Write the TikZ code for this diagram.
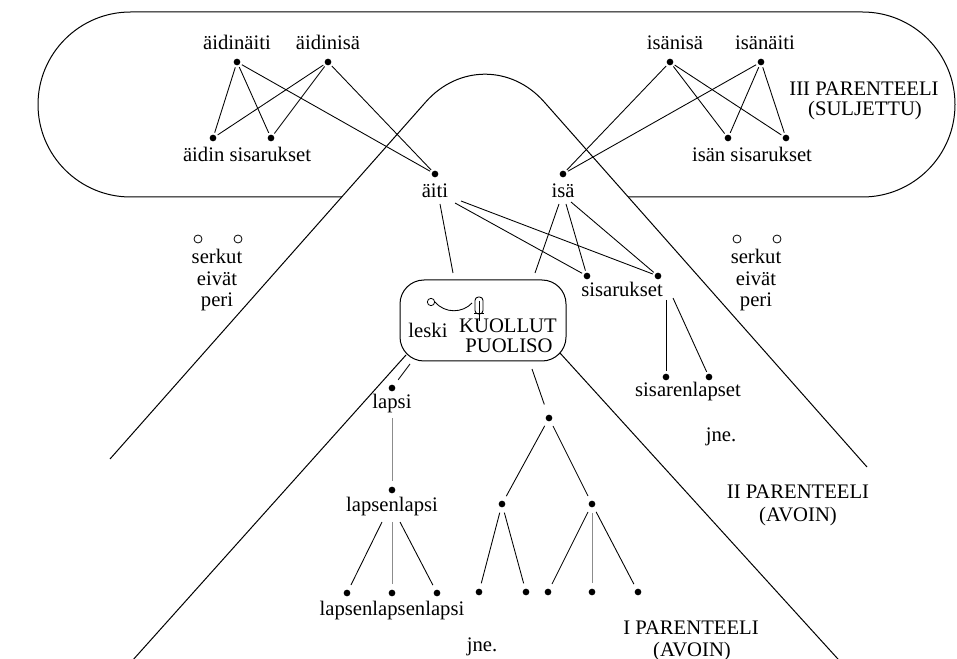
\documentclass[tikz,border=0pt]{standalone}
\usepackage{fontspec}
\setmainfont{Liberation Serif}
\begin{document}
\begin{tikzpicture}[x=0.75pt,y=-0.75pt,
  lbl/.style={inner sep=0pt, anchor=base, font=\fontsize{15.5}{18}\selectfont},
  dot/.style={circle, fill=black, inner sep=0pt, minimum size=5pt},
  odot/.style={circle, draw, inner sep=0pt, minimum size=6pt, line width=0.6pt},
  link/.style={line width=0.65pt, shorten <=1.5pt, shorten >=1.5pt},
  link0/.style={line width=0.65pt},
  glink/.style={line width=0.65pt, draw=black!45},
  bound/.style={line width=0.75pt},
]
\useasboundingbox (0,0) rectangle (957,659);

% ---------- region boundaries ----------
\draw[bound, rounded corners=69.4pt] (342,197) -- (38,197) -- (38,12) -- (955,12) -- (955,197) -- (628,197);
\draw[bound, rounded corners=67pt] (110,459) -- (485,35) -- (867,467);
\node[draw, bound, rounded corners=18pt, minimum width=124.5pt, minimum height=60.75pt, inner sep=0pt] (box) at (483,320.5) {};
\draw[bound] (406,355) -- (115,680);
\draw[bound] (560,353) -- (857,680);

% ---------- top: III parenteeli ----------
\node[dot] (adn) at (237,62) {};
\node[dot] (adi) at (328,62) {};
\node[dot] (as1) at (213,138) {};
\node[dot] (as2) at (271,138) {};
\node[dot] (aiti) at (435,174) {};
\node[dot] (isa) at (563,174) {};
\node[dot] (ini) at (670,62) {};
\node[dot] (ina) at (761,62) {};
\node[dot] (is1) at (728,138) {};
\node[dot] (is2) at (786,138) {};

\node[lbl] (adnL) at (237,50) {äidinäiti};
\node[lbl] (adiL) at (328,50) {äidinisä};
\node[lbl] (asL) at (247,162) {äidin sisarukset};
\node[lbl] (aitiL) at (435,198) {äiti};
\node[lbl] (isaL) at (563,198) {isä};
\node[lbl] (iniL) at (675,50) {isänisä};
\node[lbl] (inaL) at (765,50) {isänäiti};
\node[lbl] (isL) at (752,162) {isän sisarukset};
\node[lbl] (p3a) at (864,96) {III PARENTEELI};
\node[lbl] (p3b) at (865,116) {(SULJETTU)};

\foreach \a/\b in {adn/as1, adn/as2, adn/aiti, adi/as1, adi/as2, adi/aiti,
                   ini/isa, ini/is1, ini/is2, ina/isa, ina/is1, ina/is2}
  \draw[link] (\a) -- (\b);

% ---------- cousins ----------
\node[odot] (c1) at (198,239) {};
\node[odot] (c2) at (238,239) {};
\node[lbl] (cL1) at (217,264) {serkut};
\node[lbl] (cL2) at (217,285.5) {eivät};
\node[lbl] (cL3) at (217,307) {peri};
\node[odot] (c3) at (737,239) {};
\node[odot] (c4) at (777,239) {};
\node[lbl] (cR1) at (756,264) {serkut};
\node[lbl] (cR2) at (756,285.5) {eivät};
\node[lbl] (cR3) at (756,307) {peri};

% ---------- siblings ----------
\node[dot] (sis1) at (587,276) {};
\node[dot] (sis2) at (658,276) {};
\node[lbl] (sisL) at (622,297) {sisarukset};
\node[dot] (sl1) at (666,377) {};
\node[dot] (sl2) at (709,377) {};
\node[lbl] (slL) at (688,397) {sisarenlapset};
\node[lbl] (jne1) at (721,441) {jne.};

\coordinate (aitiA) at (440,204);
\coordinate (aitiB) at (455,203);
\coordinate (aitiC) at (461,201);
\coordinate (boxTL) at (453,273);
\coordinate (boxTR) at (535,273);
\coordinate (isaA) at (559,204);
\coordinate (isaB) at (566,204);
\coordinate (isaC) at (571,202);
\coordinate (sisA) at (666,300);
\coordinate (sisB) at (673,298);

\draw[link0] (aitiA) -- (boxTL);
\draw[link0, shorten >=1.5pt] (aitiB) -- (sis1);
\draw[link0, shorten >=1.5pt] (aitiC) -- (sis2);
\draw[link0] (isaA) -- (boxTR);
\draw[link0, shorten >=1.5pt] (isaB) -- (sis1);
\draw[link0, shorten >=1.5pt] (isaC) -- (sis2);
\draw[link0, shorten >=1.5pt] (sisA) -- (sl1);
\draw[link0, shorten >=1.5pt] (sisB) -- (sl2);

% ---------- box content ----------
\node[odot, minimum size=5.5pt] (leskiS) at (431,302) {};
\draw[link0] (leskiS.east) .. controls (445,314) and (463,313) .. (472,303);
\draw[link0, rounded corners=2.6pt] (475,297) rectangle (483,314);
\draw[link0] (479,301) -- (479,321);
\draw[link0] (474,313) -- (484,313);
\node[lbl] (leskiL) at (428,338) {leski};
\node[lbl] (kp1) at (508,333) {KUOLLUT};
\node[lbl] (kp2) at (509,353) {PUOLISO};

% ---------- descendants ----------
\node[dot] (lapsi) at (392,388) {};
\node[lbl] (lapsiL) at (392,408) {lapsi};
\node[dot] (ll) at (392,490) {};
\node[lbl] (llL) at (392,511) {lapsenlapsi};
\node[dot] (lll1) at (347,593) {};
\node[dot] (lll2) at (392,593) {};
\node[dot] (lll3) at (437,593) {};
\node[lbl] (lllL) at (392,615) {lapsenlapsenlapsi};

\coordinate (boxBL) at (410,364);
\coordinate (boxBM) at (532,369);
\coordinate (lapsiA) at (392,418);
\coordinate (llA) at (382,522);
\coordinate (llB) at (392,522);
\coordinate (llC) at (400,522);

\draw[link0, shorten >=5pt] (boxBL) -- (lapsi);
\draw[glink, shorten >=4pt] (lapsiA) -- (ll);
\draw[link0, shorten >=4pt] (llA) -- (lll1);
\draw[glink, shorten >=4pt] (llB) -- (lll2);
\draw[link0, shorten >=4pt] (llC) -- (lll3);

\node[dot] (t0) at (549,418) {};
\node[dot] (t1) at (502,504) {};
\node[dot] (t2) at (592,504) {};
\node[dot] (b1) at (479,592) {};
\node[dot] (b2) at (526,592) {};
\node[dot] (b3) at (548,592) {};
\node[dot] (b4) at (592,592) {};
\node[dot] (b5) at (638,592) {};

\draw[link0, shorten >=8pt] (boxBM) -- (t0);
\foreach \a/\b in {t0/t1, t0/t2, t1/b1, t1/b2, t2/b3, t2/b5}
  \draw[link, shorten <=4pt, shorten >=4pt] (\a) -- (\b);
\draw[glink, shorten <=4pt, shorten >=4pt] (t2) -- (b4);

\node[lbl] (jne2) at (482,651) {jne.};
\node[lbl] (p2a) at (798,498) {II PARENTEELI};
\node[lbl] (p2b) at (798,521) {(AVOIN)};
\node[lbl] (p1a) at (691,634) {I PARENTEELI};
\node[lbl] (p1b) at (692,656) {(AVOIN)};
\end{tikzpicture}
\end{document}
